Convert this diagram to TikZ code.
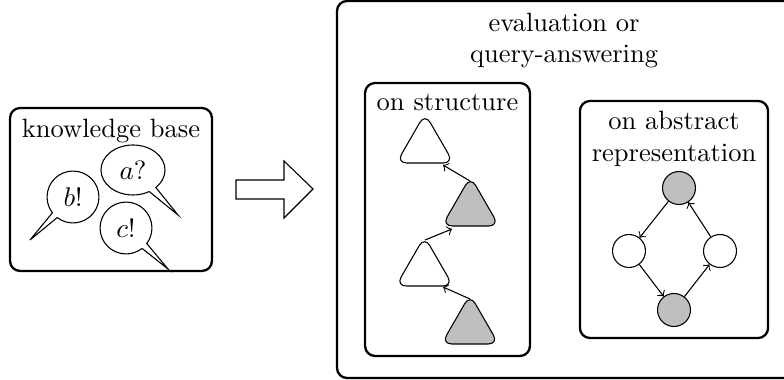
\documentclass[tikz,border=0pt]{standalone}
\usetikzlibrary{shapes.geometric,shapes.callouts}
\definecolor{shade}{gray}{0.75}
\tikzset{
  every node/.style={font=\fontsize{9.8}{12}\selectfont},
  panel/.style={draw,line width=0.85pt,rounded corners=3.7pt,inner sep=0pt},
  cap text/.style={align=center,inner sep=0pt,anchor=base},
  bubble/.style={ellipse callout,draw,fill=white,line width=0.4pt,inner sep=0pt,callout pointer arc=15},
  tri/.style={regular polygon,regular polygon sides=3,draw,line width=0.4pt,inner sep=0pt,minimum size=24.4pt,rounded corners=3.8pt},
  dot/.style={circle,draw,line width=0.4pt,inner sep=0pt,minimum size=12.2pt},
  link/.style={->,line width=0.4pt}
}
\begin{document}
\begin{tikzpicture}[x=0.37pt,y=-0.37pt]
\useasboundingbox (0,0) rectangle (784,380);
% knowledge base
\node[panel,minimum width=74.7pt,minimum height=60.3pt] (kb) at (111,189.5) {};
\node[cap text] (kbt) at (111,138) {knowledge base};
\node[bubble,minimum width=23.7pt,minimum height=18.5pt,callout absolute pointer={(178,215)}] (a) at (133,170) {$a$?};
\node[bubble,minimum width=19.2pt,minimum height=19.2pt,callout absolute pointer={(30,240)}] (b) at (73,197) {$b$!};
\node[bubble,minimum width=19.2pt,minimum height=19.2pt,callout absolute pointer={(168,269)}] (c) at (126,228) {$c$!};
% big arrow
\draw[line width=0.4pt] (236,180) -- (284,180) -- (284,161) -- (313,189) -- (284,218) -- (284,199) -- (236,199) -- cycle;
% outer panel, running past the right edge of the picture
\node[panel,minimum width=171.3pt,minimum height=139.5pt] (outer) at (568.5,189.5) {};
\node[cap text] (ot1) at (564,32) {evaluation or};
\node[cap text] (ot2) at (564,63) {query-answering};
% structure
\node[panel,minimum width=61pt,minimum height=101pt] (sp) at (447.5,219.5) {};
\node[cap text] (st) at (447.5,110.5) {on structure};
\node[tri] (t1) at (425,146.5) {};
\node[tri,fill=shade] (t2) at (470.5,209.5) {};
\node[tri] (t3) at (424.5,269.5) {};
\node[tri,fill=shade] (t4) at (470,327.5) {};
\draw[link] ([shift={(-0.5,-28.5)}]t2.center) -- ([shift={(18,18.5)}]t1.center);
\draw[link] ([shift={(0.5,-29.5)}]t3.center) -- ([shift={(-18.5,19.5)}]t2.center);
\draw[link] ([shift={(0,-28.5)}]t4.center) -- ([shift={(18.5,17.5)}]t3.center);
% abstract
\node[panel,minimum width=69.6pt,minimum height=87.7pt] (ap) at (674,219.5) {};
\node[cap text] (at1) at (674,130) {on abstract};
\node[cap text] (at2) at (674,162) {representation};
\node[dot,fill=shade] (n1) at (679,188) {};
\node[dot] (n2) at (629,251) {};
\node[dot] (n3) at (720,251) {};
\node[dot,fill=shade] (n4) at (674,310) {};
\draw[link] (n1) -- (n2);
\draw[link] (n2) -- (n4);
\draw[link] (n4) -- (n3);
\draw[link] (n3) -- (n1);
\end{tikzpicture}
\end{document}
